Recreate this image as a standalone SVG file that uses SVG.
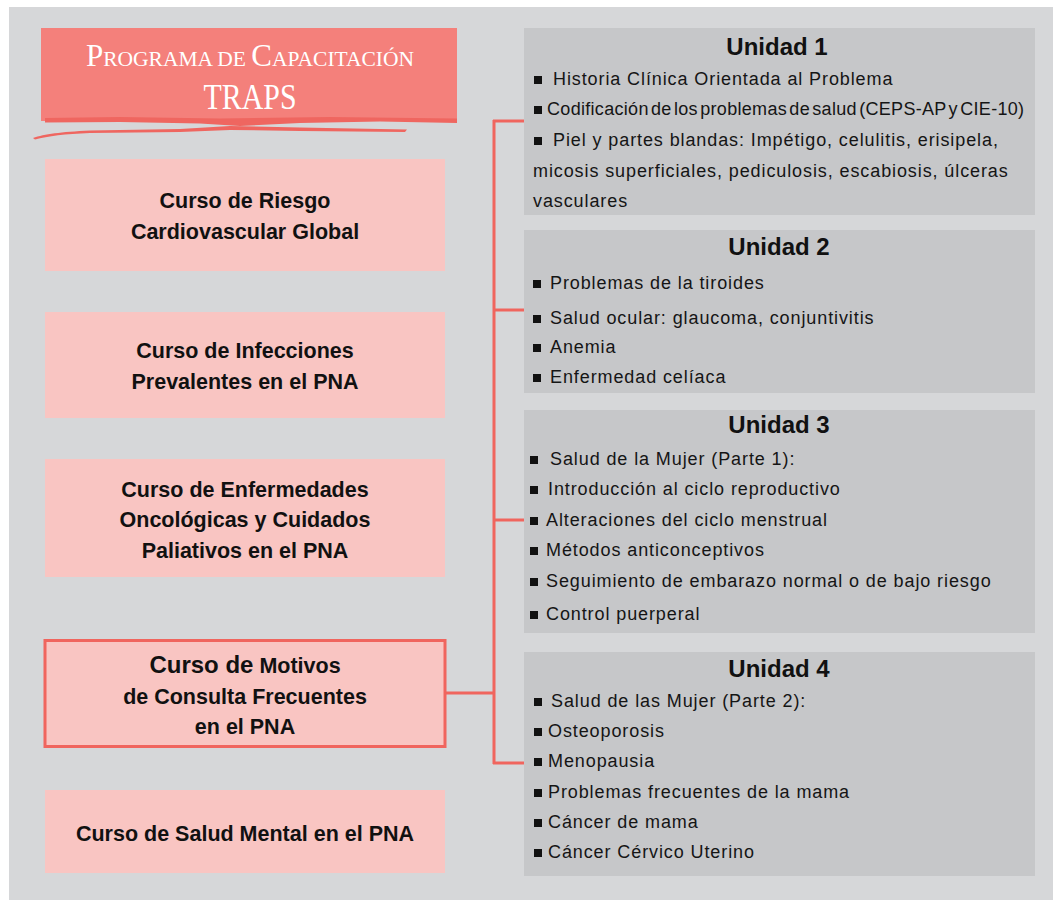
<svg xmlns="http://www.w3.org/2000/svg" xmlns:xlink="http://www.w3.org/1999/xlink" width="1053" height="900" viewBox="0 0 1053 900">
<defs>
<style>
.panel{fill:#d6d7d9}
.course{fill:#f9c5c2}
.unit{fill:#c6c7c9}
.ct{font-family:"Liberation Sans",Arial,sans-serif;font-weight:bold;font-size:21.5px;fill:#111;text-anchor:middle}
.ut{font-family:"Liberation Sans",Arial,sans-serif;font-weight:bold;font-size:24px;fill:#111;text-anchor:middle}
.it{font-family:"Liberation Sans",Arial,sans-serif;font-size:18px;letter-spacing:0.9px;fill:#151515}
.conn{stroke:#f0655e;stroke-width:3;fill:none}
.tt{font-family:"Liberation Serif","Times New Roman",serif;fill:#fff;text-anchor:middle}
</style>
<rect id="b" width="8" height="8" fill="#111"/>
</defs>
<rect x="0" y="0" width="1053" height="900" fill="#fff"/>
<rect class="panel" x="9" y="7" width="1044" height="893"/>

<g id="title">
<rect x="41" y="28" width="416" height="93" fill="#f4807b"/>
<path d="M45,118 L120,117 L220,118.5 L330,117 L457,118.5 L457,123 L380,121.5 L300,123 L240,126 L200,123.5 L120,122 L45,122.5 Z" fill="#ef6660"/>
<path d="M33,138 C45,134 60,132 90,130.5 L180,129 L230,126 L300,127.5 L407,129.5 L405,132 L300,131 L230,130 L180,132 L90,133 C65,134 48,136 35,139.5 Z" fill="#ef6660"/>
<text class="tt" x="250" y="66"><tspan font-size="31">P</tspan><tspan font-size="21.5">ROGRAMA DE </tspan><tspan font-size="31">C</tspan><tspan font-size="21.5">APACITACIÓN</tspan></text>
<text class="tt" x="250" y="109" font-size="35" textLength="93" lengthAdjust="spacingAndGlyphs">TRAPS</text>
</g>

<g id="connectors">
<line class="conn" x1="494" y1="120" x2="494" y2="764"/>
<line class="conn" x1="493" y1="121" x2="524" y2="121"/>
<line class="conn" x1="494" y1="310" x2="524" y2="310"/>
<line class="conn" x1="494" y1="520" x2="524" y2="520"/>
<line class="conn" x1="493" y1="763" x2="524" y2="763"/>
<line class="conn" x1="446" y1="693" x2="494" y2="693"/>
</g>

<g id="curso1">
<rect class="course" x="45" y="159" width="400" height="112"/>
<text class="ct" x="245" y="208">Curso de Riesgo</text>
<text class="ct" x="245" y="239">Cardiovascular Global</text>
</g>
<g id="curso2">
<rect class="course" x="45" y="312" width="400" height="106"/>
<text class="ct" x="245" y="358">Curso de Infecciones</text>
<text class="ct" x="245" y="389">Prevalentes en el PNA</text>
</g>
<g id="curso3">
<rect class="course" x="45" y="459" width="400" height="118"/>
<text class="ct" x="245" y="497">Curso de Enfermedades</text>
<text class="ct" x="245" y="527">Oncológicas y Cuidados</text>
<text class="ct" x="245" y="558">Paliativos en el PNA</text>
</g>
<g id="curso4">
<rect class="course" x="45" y="640.5" width="400" height="106" stroke="#f0655e" stroke-width="3"/>
<text class="ct" x="245" y="673"><tspan font-size="24">Curso de</tspan> Motivos</text>
<text class="ct" x="245" y="704">de Consulta Frecuentes</text>
<text class="ct" x="245" y="734">en el PNA</text>
</g>
<g id="curso5">
<rect class="course" x="45" y="790" width="400" height="83"/>
<text class="ct" x="245" y="841">Curso de Salud Mental en el PNA</text>
</g>

<g id="unidad1">
<rect class="unit" x="524" y="28" width="511" height="187"/>
<text class="ut" x="777" y="55">Unidad 1</text>
<use xlink:href="#b" x="534" y="76"/>
<text class="it" x="553" y="85">Historia Clínica Orientada al Problema</text>
<use xlink:href="#b" x="534" y="106"/>
<text class="it" x="547" y="115" word-spacing="-3" textLength="478">Codificación de los problemas de salud (CEPS-AP y CIE-10)</text>
<use xlink:href="#b" x="534" y="137"/>
<text class="it" x="553" y="146">Piel y partes blandas: Impétigo, celulitis, erisipela,</text>
<text class="it" x="533" y="177">micosis superficiales, pediculosis, escabiosis, úlceras</text>
<text class="it" x="533" y="207">vasculares</text>
</g>

<g id="unidad2">
<rect class="unit" x="524" y="230" width="511" height="163"/>
<text class="ut" x="779" y="255">Unidad 2</text>
<use xlink:href="#b" x="533" y="280"/>
<text class="it" x="550" y="289">Problemas de la tiroides</text>
<use xlink:href="#b" x="533" y="315"/>
<text class="it" x="550" y="324">Salud ocular: glaucoma, conjuntivitis</text>
<use xlink:href="#b" x="533" y="344"/>
<text class="it" x="550" y="353">Anemia</text>
<use xlink:href="#b" x="533" y="374"/>
<text class="it" x="550" y="383">Enfermedad celíaca</text>
</g>

<g id="unidad3">
<rect class="unit" x="524" y="410" width="511" height="223"/>
<text class="ut" x="779" y="433">Unidad 3</text>
<use xlink:href="#b" x="530" y="456"/>
<text class="it" x="550" y="465">Salud de la Mujer (Parte 1):</text>
<use xlink:href="#b" x="530" y="486"/>
<text class="it" x="548" y="495">Introducción al ciclo reproductivo</text>
<use xlink:href="#b" x="530" y="517"/>
<text class="it" x="546" y="526">Alteraciones del ciclo menstrual</text>
<use xlink:href="#b" x="530" y="547"/>
<text class="it" x="546" y="556">Métodos anticonceptivos</text>
<use xlink:href="#b" x="530" y="578"/>
<text class="it" x="546" y="587">Seguimiento de embarazo normal o de bajo riesgo</text>
<use xlink:href="#b" x="530" y="611"/>
<text class="it" x="546" y="620">Control puerperal</text>
</g>

<g id="unidad4">
<rect class="unit" x="524" y="652" width="511" height="224"/>
<text class="ut" x="779" y="677">Unidad 4</text>
<use xlink:href="#b" x="534" y="698"/>
<text class="it" x="551" y="707">Salud de las Mujer (Parte 2):</text>
<use xlink:href="#b" x="534" y="728"/>
<text class="it" x="548" y="737">Osteoporosis</text>
<use xlink:href="#b" x="534" y="758"/>
<text class="it" x="548" y="767">Menopausia</text>
<use xlink:href="#b" x="534" y="789"/>
<text class="it" x="548" y="798">Problemas frecuentes de la mama</text>
<use xlink:href="#b" x="534" y="819"/>
<text class="it" x="548" y="828">Cáncer de mama</text>
<use xlink:href="#b" x="534" y="849"/>
<text class="it" x="548" y="858">Cáncer Cérvico Uterino</text>
</g>
</svg>
